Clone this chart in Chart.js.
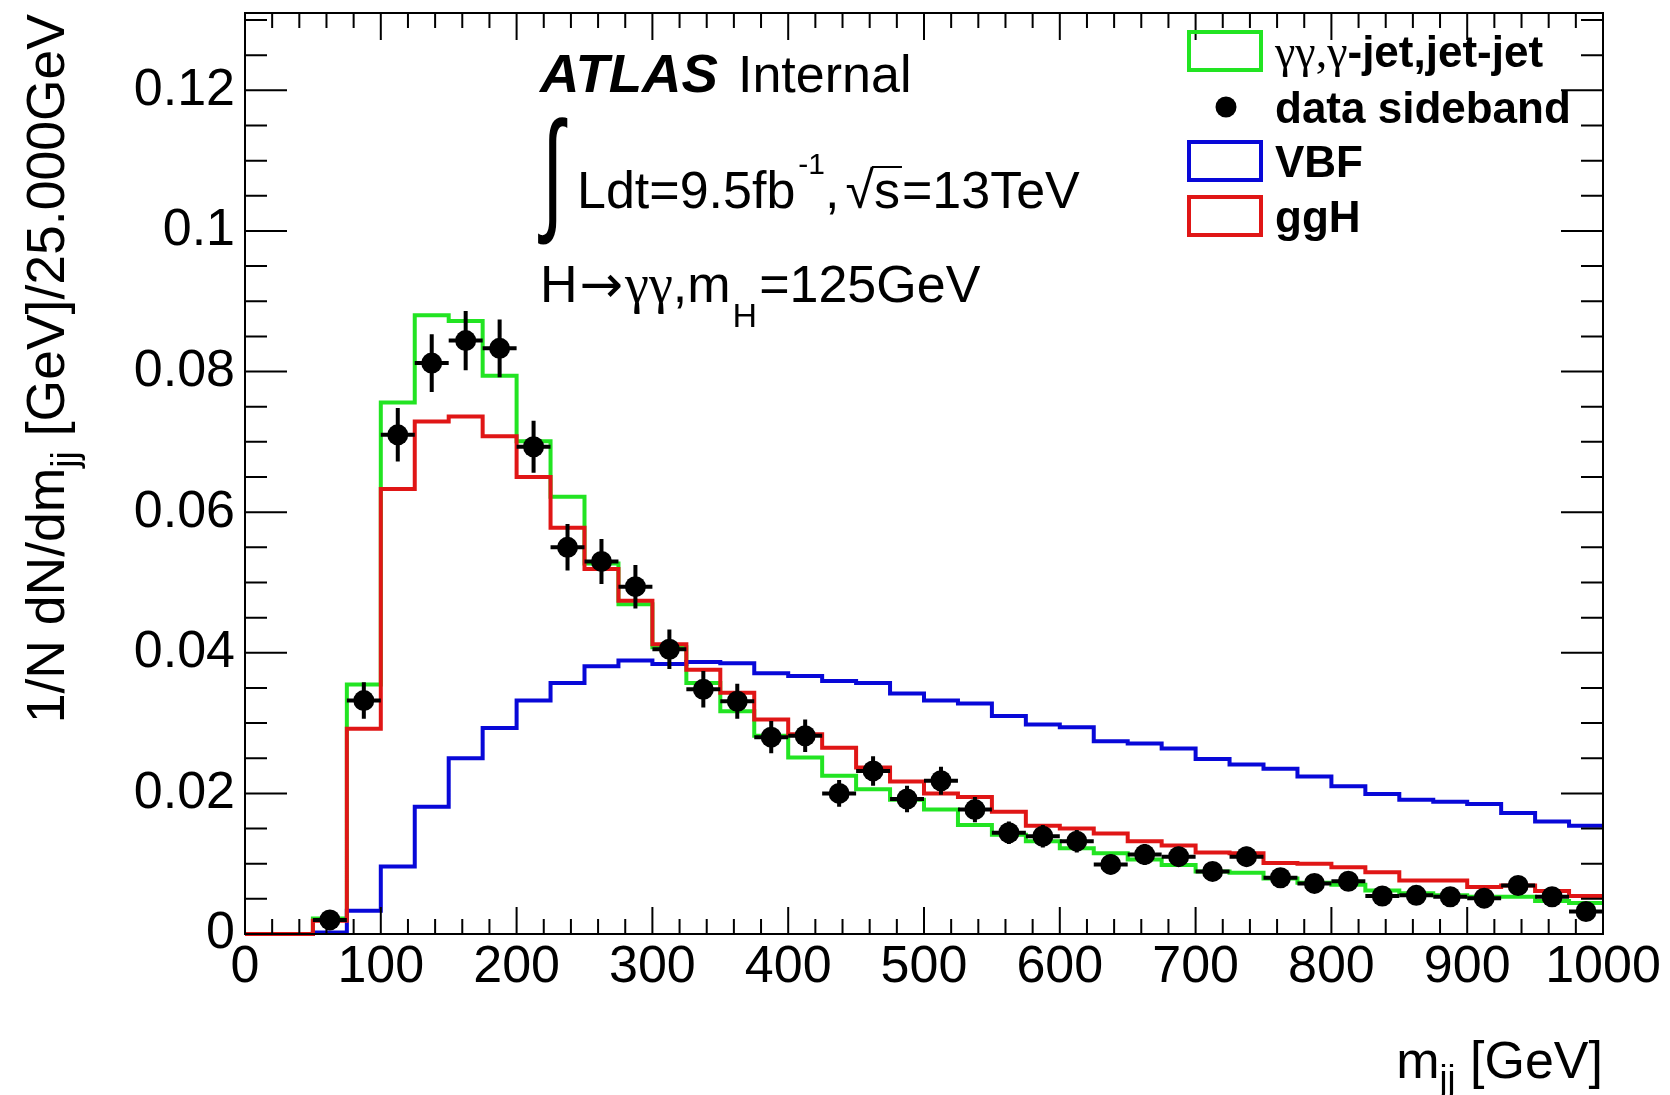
<!DOCTYPE html>
<html lang="en">
<head>
<meta charset="UTF-8">
<title>m_jj sideband</title>
<script src="https://cdn.jsdelivr.net/npm/chart.js@4.4.1/dist/chart.umd.min.js"></script>
<style>
  html, body { margin: 0; padding: 0; background: #fff; }
  #wrap { width: 1670px; height: 1095px; }
</style>
</head>
<body>
<div id="wrap"><canvas id="c" width="1670" height="1095"></canvas></div>
<script>
// 25 GeV bins, 0..1000 GeV
const binEdges = [0, 25, 50, 75, 100, 125, 150, 175, 200, 225, 250, 275, 300, 325, 350, 375, 400,
  425, 450, 475, 500, 525, 550, 575, 600, 625, 650, 675, 700, 725, 750, 775, 800, 825, 850, 875,
  900, 925, 950, 975, 1000];
const binCenters = [12.5, 37.5, 62.5, 87.5, 112.5, 137.5, 162.5, 187.5, 212.5, 237.5, 262.5, 287.5,
  312.5, 337.5, 362.5, 387.5, 412.5, 437.5, 462.5, 487.5, 512.5, 537.5, 562.5, 587.5, 612.5, 637.5,
  662.5, 687.5, 712.5, 737.5, 762.5, 787.5, 812.5, 837.5, 862.5, 887.5, 912.5, 937.5, 962.5, 987.5];

// gamma-gamma, gamma-jet, jet-jet background
const bkgValues = [0, 0, 0.0022, 0.0355, 0.0756, 0.0880, 0.0872, 0.0794, 0.0701, 0.0622,
  0.0527, 0.0469, 0.0408, 0.0357, 0.0317, 0.0282, 0.0251, 0.0225, 0.0206, 0.0191,
  0.0177, 0.0155, 0.0141, 0.0132, 0.0122, 0.0115, 0.0106, 0.0098, 0.0089, 0.0087,
  0.0079, 0.0073, 0.0070, 0.0062, 0.0058, 0.0055, 0.0053, 0.0053, 0.0047, 0.0044];
// ggH
const gghValues = [0, 0, 0.0019, 0.0292, 0.0633, 0.0729, 0.0736, 0.0708, 0.0650, 0.0578,
  0.0519, 0.0474, 0.0412, 0.0376, 0.0343, 0.0305, 0.0284, 0.0265, 0.0237, 0.0217,
  0.0200, 0.0195, 0.0174, 0.0154, 0.0150, 0.0143, 0.0132, 0.0126, 0.0116, 0.0115,
  0.0101, 0.0100, 0.0095, 0.0088, 0.0076, 0.0076, 0.0067, 0.0069, 0.0061, 0.0054];
// VBF
const vbfValues = [0, 0, 0.0002, 0.0033, 0.0096, 0.0181, 0.0250, 0.0293, 0.0332, 0.0357,
  0.0381, 0.0389, 0.0384, 0.0387, 0.0385, 0.0371, 0.0367, 0.0360, 0.0357, 0.0342,
  0.0332, 0.0328, 0.0310, 0.0298, 0.0294, 0.0274, 0.0271, 0.0264, 0.0249, 0.0241,
  0.0235, 0.0224, 0.0210, 0.0199, 0.0191, 0.0188, 0.0185, 0.0172, 0.0160, 0.0154];
// data sideband + stat errors
const dataValues = [null, null, 0.0020, 0.0332, 0.0710, 0.0812, 0.0844, 0.0833, 0.0693, 0.0550,
  0.0530, 0.0494, 0.0405, 0.0348, 0.0331, 0.0280, 0.0282, 0.0200, 0.0232, 0.0192,
  0.0218, 0.0177, 0.0144, 0.0139, 0.0132, 0.0099, 0.0113, 0.0110, 0.0089, 0.0110,
  0.0080, 0.0072, 0.0075, 0.0054, 0.0055, 0.0053, 0.0051, 0.0069, 0.0053, 0.0032];
const dataErrors = [null, null, 0.0007, 0.0026, 0.0038, 0.0041, 0.0042, 0.0041, 0.0037, 0.0033,
  0.0032, 0.0031, 0.0028, 0.0026, 0.0025, 0.0023, 0.0023, 0.0019, 0.0021, 0.0019,
  0.0020, 0.0018, 0.0016, 0.0016, 0.0016, 0.0014, 0.0015, 0.0014, 0.0013, 0.0014,
  0.0012, 0.0012, 0.0012, 0.0010, 0.0010, 0.0010, 0.0010, 0.0011, 0.0010, 0.0008];

const legendLabels = ['γγ,γ-jet,jet-jet', 'data sideband', 'VBF', 'ggH'];

const GREEN = '#22e422', BLUE = '#0808d8', RED = '#e01616';
const SANS = '"Liberation Sans", Arial, Helvetica, sans-serif';
const SERIF = '"Liberation Serif", "Times New Roman", serif';
const F = (size, style) => (style ? style + ' ' : '') + size + 'px ' + SANS;

function histDataset(label, vals, color, order) {
  return {
    type: 'line', label: label, order: order,
    // left edge of every bin, plus the closing edge at 1000
    data: binEdges.map((e, i) => ({ x: e, y: vals[Math.min(i, vals.length - 1)] })),
    stepped: 'before', borderColor: color, borderWidth: 4,
    pointRadius: 0, fill: false, clip: false, borderJoinStyle: 'miter'
  };
}

function runsWidth(ctx, runs) {
  let w = 0;
  for (const r of runs) { ctx.font = r.f; w += ctx.measureText(r.t).width + (r.gap || 0); }
  return w;
}
function drawRuns(ctx, runs, x, y) {
  for (const r of runs) {
    ctx.font = r.f;
    ctx.fillText(r.t, x, y + (r.dy || 0));
    x += ctx.measureText(r.t).width + (r.gap || 0);
  }
  return x;
}
// draw text squeezed/stretched to a given width
function fitText(ctx, text, font, x, y, width) {
  ctx.save();
  ctx.font = font;
  const w = ctx.measureText(text).width;
  ctx.translate(x, y);
  ctx.scale(width / w, 1);
  ctx.fillText(text, 0, 0);
  ctx.restore();
}

const rootStyle = {
  id: 'rootStyle',
  afterDatasetsDraw(chart) {
    // error bars of the data points
    const ctx = chart.ctx, xs = chart.scales.x, ys = chart.scales.y;
    ctx.save();
    ctx.strokeStyle = '#000';
    ctx.lineWidth = 4;
    for (let i = 0; i < binCenters.length; i++) {
      if (dataValues[i] === null) continue;
      const px = xs.getPixelForValue(binCenters[i]);
      const py = ys.getPixelForValue(dataValues[i]);
      ctx.beginPath();
      ctx.moveTo(px, ys.getPixelForValue(dataValues[i] - dataErrors[i]));
      ctx.lineTo(px, ys.getPixelForValue(dataValues[i] + dataErrors[i]));
      ctx.moveTo(xs.getPixelForValue(binEdges[i]), py);
      ctx.lineTo(xs.getPixelForValue(binEdges[i + 1]), py);
      ctx.stroke();
    }
    ctx.restore();
  },
  afterDraw(chart) {
    const ctx = chart.ctx, xs = chart.scales.x, ys = chart.scales.y, a = chart.chartArea;
    ctx.save();
    ctx.strokeStyle = '#000';
    ctx.fillStyle = '#000';
    ctx.lineWidth = 2;
    ctx.strokeRect(a.left, a.top, a.right - a.left, a.bottom - a.top);

    // inside ticks on all four sides
    ctx.beginPath();
    for (let v = 0; v <= 1000; v += 20) {
      const px = xs.getPixelForValue(v);
      const len = v % 100 === 0 ? 27 : 15;
      ctx.moveTo(px, a.bottom); ctx.lineTo(px, a.bottom - len);
      ctx.moveTo(px, a.top); ctx.lineTo(px, a.top + len);
    }
    for (let k = 0; k * 0.005 <= ys.max; k++) {
      const py = ys.getPixelForValue(k * 0.005);
      const len = k % 4 === 0 ? 42 : 22;
      ctx.moveTo(a.left, py); ctx.lineTo(a.left + len, py);
      ctx.moveTo(a.right, py); ctx.lineTo(a.right - len, py);
    }
    ctx.stroke();

    ctx.textAlign = 'left';
    ctx.textBaseline = 'alphabetic';

    // axis titles
    const xTitle = [{ t: 'm', f: F(52) }, { t: 'jj', f: F(36), dy: 13 }, { t: ' [GeV]', f: F(52) }];
    drawRuns(ctx, xTitle, a.right - runsWidth(ctx, xTitle), 1078);

    const yTitle = [{ t: '1/N dN/dm', f: F(53.5) }, { t: 'jj', f: F(37), dy: 13 },
      { t: ' [GeV]/25.000GeV', f: F(53.5) }];
    ctx.save();
    ctx.translate(64, 14);
    ctx.rotate(-Math.PI / 2);
    drawRuns(ctx, yTitle, -runsWidth(ctx, yTitle), 0);
    ctx.restore();

    // ATLAS label block
    fitText(ctx, 'ATLAS', F(53, 'italic bold'), 540, 92, 178);
    ctx.font = F(52);
    ctx.fillText('Internal', 738, 92);

    ctx.save();
    ctx.font = '100px ' + SANS;
    const m = ctx.measureText('∫');
    const gw = m.actualBoundingBoxLeft + m.actualBoundingBoxRight;
    const gh = m.actualBoundingBoxAscent + m.actualBoundingBoxDescent;
    ctx.translate(538, 117);
    ctx.scale(30 / gw, 129 / gh);
    ctx.fillText('∫', m.actualBoundingBoxLeft, m.actualBoundingBoxAscent);
    ctx.restore();

    let x = drawRuns(ctx, [{ t: 'Ldt=9.5fb', f: F(52) }], 577, 208);
    x = drawRuns(ctx, [{ t: '-1', f: F(30) }], x + 3, 174);
    x = drawRuns(ctx, [{ t: ',', f: F(52), gap: 6 }], x, 208);
    ctx.font = F(52);
    const rm = ctx.measureText('√');
    const rx = drawRuns(ctx, [{ t: '√', f: F(52) }], x, 208);
    const sx = drawRuns(ctx, [{ t: 's', f: F(52) }], rx, 208);
    ctx.beginPath();
    ctx.moveTo(rx - 2, 208 - rm.actualBoundingBoxAscent + 1);
    ctx.lineTo(sx + 2, 208 - rm.actualBoundingBoxAscent + 1);
    ctx.stroke();
    drawRuns(ctx, [{ t: '=13TeV', f: F(52) }], sx + 2, 208);

    drawRuns(ctx, [
      { t: 'H', f: F(52), gap: 2 }, { t: '→', f: '52px "DejaVu Sans", ' + SANS, gap: 2 },
      { t: 'γγ', f: '54px ' + SERIF },
      { t: ',m', f: F(52), gap: 2 }, { t: 'H', f: F(34), dy: 25, gap: 2 }, { t: '=125GeV', f: F(52) }
    ], 540, 302);

    // legend
    const rows = [
      { kind: 'box', color: GREEN, cy: 51,
        runs: [{ t: legendLabels[0].slice(0, 4), f: '46px ' + SERIF }, { t: legendLabels[0].slice(4), f: F(44, 'bold') }] },
      { kind: 'dot', color: '#000', cy: 107, runs: [{ t: legendLabels[1], f: F(44, 'bold') }] },
      { kind: 'box', color: BLUE, cy: 161, runs: [{ t: legendLabels[2], f: F(44, 'bold') }] },
      { kind: 'box', color: RED, cy: 216, runs: [{ t: legendLabels[3], f: F(44, 'bold') }] }
    ];
    for (const r of rows) {
      if (r.kind === 'box') {
        ctx.strokeStyle = r.color;
        ctx.lineWidth = 4;
        ctx.strokeRect(1189, r.cy - 19, 72, 38);
      } else {
        ctx.beginPath();
        ctx.arc(1226, r.cy, 10.5, 0, Math.PI * 2);
        ctx.fill();
      }
      ctx.fillStyle = '#000';
      drawRuns(ctx, r.runs, 1275, r.cy + 16);
    }
    ctx.restore();
  }
};

new Chart(document.getElementById('c'), {
  data: {
    datasets: [
      {
        type: 'scatter', label: legendLabels[1], order: 0,
        data: binCenters.map((x, i) => ({ x: x, y: dataValues[i] })).filter(p => p.y !== null),
        pointRadius: 10.5, pointBackgroundColor: '#000', pointBorderWidth: 0, clip: false
      },
      histDataset(legendLabels[3], gghValues, RED, 1),
      histDataset(legendLabels[2], vbfValues, BLUE, 2),
      histDataset(legendLabels[0], bkgValues, GREEN, 3)
    ]
  },
  options: {
    responsive: false,
    devicePixelRatio: 1,
    animation: false,
    events: [],
    layout: { padding: { left: 0, right: 67, top: 13, bottom: 0 } },
    plugins: { legend: { display: false }, tooltip: { enabled: false } },
    scales: {
      x: {
        type: 'linear', min: 0, max: 1000,
        grid: { display: false, drawTicks: false }, border: { display: false },
        ticks: {
          stepSize: 100, autoSkip: false, maxRotation: 0, padding: 2, color: '#000',
          font: { family: SANS, size: 52 }, callback: v => String(v)
        },
        afterFit: s => { s.height = 161; s.paddingLeft = 0; s.paddingRight = 0; }
      },
      y: {
        type: 'linear', min: 0, max: 0.131,
        grid: { display: false, drawTicks: false }, border: { display: false },
        ticks: {
          stepSize: 0.02, includeBounds: false, padding: 10, color: '#000',
          font: { family: SANS, size: 52 }, callback: v => String(parseFloat(v.toFixed(4)))
        },
        afterFit: s => { s.width = 245; s.paddingTop = 0; s.paddingBottom = 0; }
      }
    }
  },
  plugins: [rootStyle]
});
</script>
</body>
</html>
